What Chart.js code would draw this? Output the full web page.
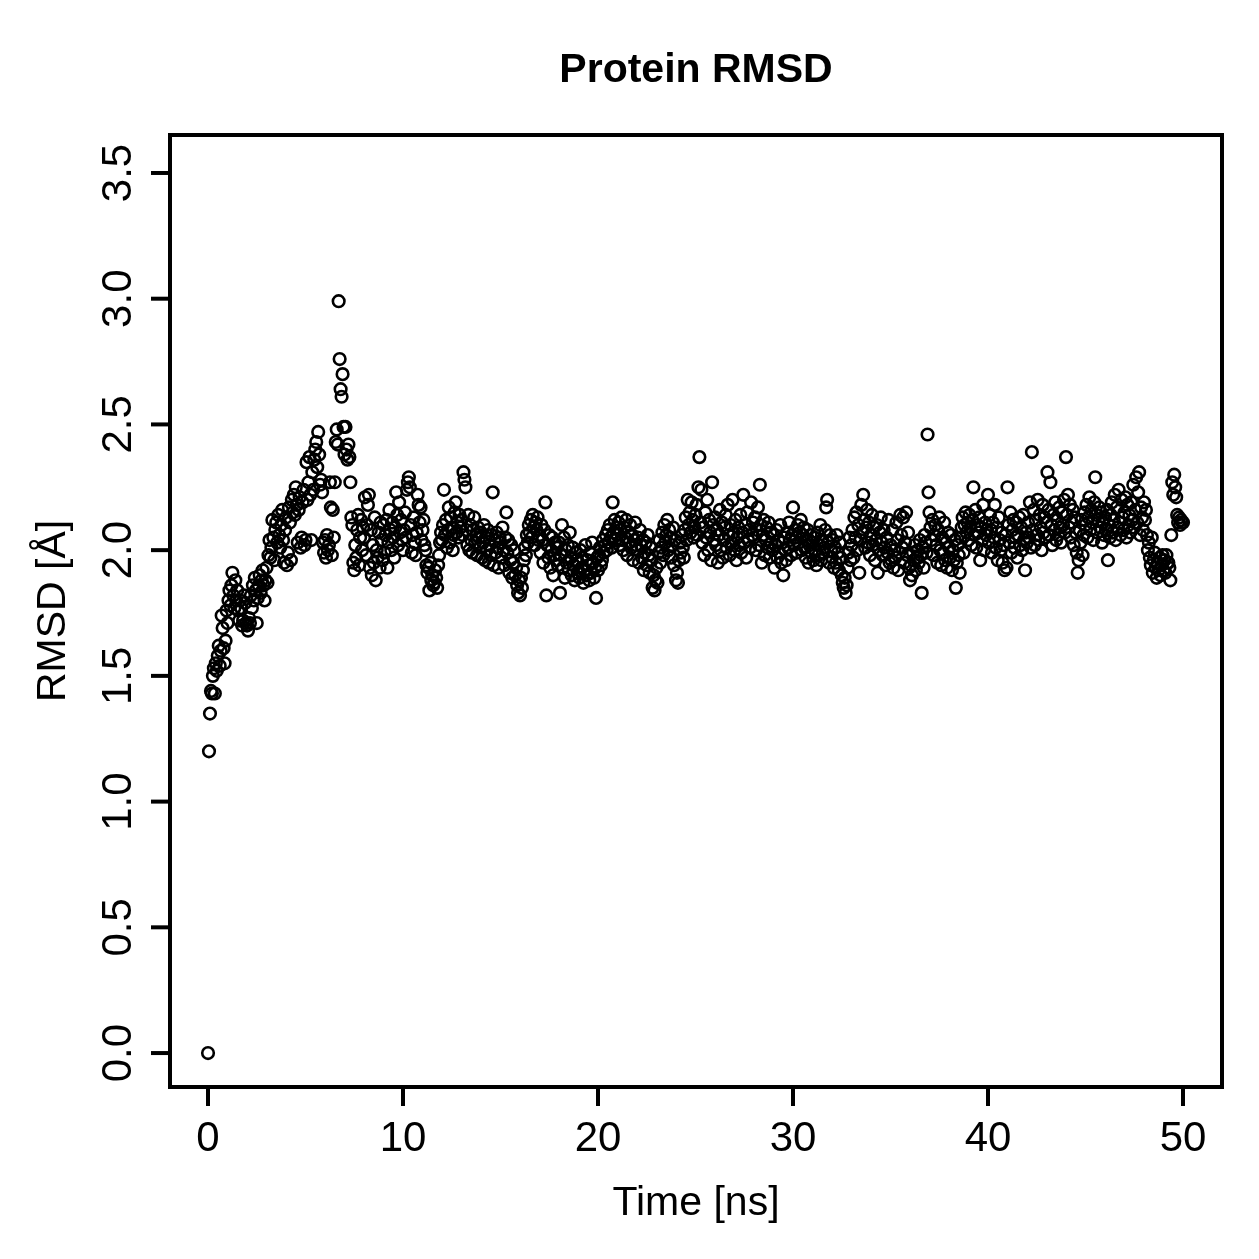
<!DOCTYPE html>
<html>
<head>
<meta charset="utf-8">
<title>Protein RMSD</title>
<script src="https://cdn.jsdelivr.net/npm/chart.js@4.4.1/dist/chart.umd.min.js"></script>
<style>
  html, body { margin: 0; padding: 0; background: #fff; }
  canvas { display: block; }
</style>
</head>
<body>
<canvas id="rmsd-chart" width="1259" height="1259" style="width:1259px;height:1259px"></canvas>
<script>
// frame spacing of the trajectory (ns)
const dtNs = 0.05;

// RMSD per frame (Angstrom), one line = 1 ns (20 frames)
const rmsd = [
  0.00, 1.20, 1.35, 1.44, 1.43, 1.50, 1.53, 1.43, 1.55, 1.52, 1.58, 1.62, 1.54, 1.60, 1.74, 1.69, 1.61, 1.55, 1.64, 1.76,
  1.71, 1.80, 1.84, 1.78, 1.86, 1.91, 1.82, 1.77, 1.88, 1.80, 1.84, 1.76, 1.72, 1.80, 1.77, 1.70, 1.72, 1.82, 1.79, 1.71,
  1.70, 1.68, 1.73, 1.71, 1.82, 1.77, 1.86, 1.80, 1.89, 1.84, 1.71, 1.81, 1.86, 1.90, 1.83, 1.88, 1.92, 1.86, 1.80, 1.88,
  1.93, 1.87, 1.98, 2.04, 1.97, 2.01, 2.12, 2.05, 1.96, 2.08, 2.11, 2.03, 2.14, 2.06, 2.01, 2.10, 2.16, 2.04, 1.95, 2.08,
  2.13, 1.94, 1.99, 2.17, 2.11, 1.96, 2.20, 2.15, 2.22, 2.14, 2.25, 2.18, 2.03, 2.16, 2.21, 2.01, 2.05, 2.19, 2.24, 2.02,
  2.04, 2.35, 2.20, 2.27, 2.37, 2.22, 2.04, 2.31, 2.24, 2.36, 2.40, 2.43, 2.33, 2.47, 2.38, 2.26, 2.28, 2.23, 2.03, 1.99,
  2.04, 1.97, 2.06, 2.00, 2.02, 2.27, 2.17, 1.98, 2.16, 2.05, 2.27, 2.43, 2.48, 2.42, 2.99, 2.76, 2.64, 2.61, 2.70, 2.49,
  2.38, 2.49, 2.40, 2.36, 2.42, 2.37, 2.27, 2.13, 2.10, 1.95, 1.92, 2.02, 1.97, 2.08, 2.14, 1.94, 2.05, 2.12, 2.00, 2.09,
  2.05, 2.21, 1.98, 2.10, 2.18, 2.22, 1.93, 2.08, 1.90, 2.02, 1.95, 2.13, 1.88, 2.00, 1.97, 2.07, 1.93, 2.11, 2.04, 1.96,
  2.10, 1.99, 2.06, 2.12, 1.93, 2.03, 2.16, 2.08, 2.00, 2.11, 2.05, 1.97, 2.09, 2.23, 2.14, 2.02, 2.19, 2.07, 2.12, 2.04,
  2.00, 2.08, 2.15, 2.05, 2.24, 2.27, 2.29, 2.25, 2.10, 1.99, 2.06, 2.13, 2.03, 1.98, 2.07, 2.22, 2.18, 2.11, 2.17, 2.04,
  2.08, 2.12, 2.02, 2.00, 1.94, 1.91, 1.93, 1.84, 1.95, 1.88, 1.90, 1.86, 1.87, 1.92, 1.89, 1.85, 1.94, 1.98, 2.03, 2.07,
  2.04, 2.10, 2.24, 2.06, 2.12, 2.01, 2.08, 2.17, 2.03, 2.13, 2.09, 2.00, 2.06, 2.15, 2.19, 2.07, 2.11, 2.05, 2.14, 2.09,
  2.12, 2.06, 2.31, 2.28, 2.25, 2.08, 2.02, 2.14, 2.00, 2.10, 2.04, 1.99, 2.08, 2.13, 2.03, 2.06, 1.98, 2.09, 2.05, 2.01,
  2.07, 1.97, 2.03, 2.10, 1.96, 2.05, 2.00, 2.08, 1.95, 2.02, 1.98, 2.06, 2.23, 1.94, 2.04, 1.99, 2.07, 2.01, 1.93, 2.05,
  2.03, 1.97, 2.09, 2.00, 1.94, 2.05, 2.15, 1.99, 2.04, 1.91, 1.96, 2.02, 1.89, 1.95, 2.00, 1.90, 1.93, 1.86, 1.83, 1.88,
  1.82, 1.89, 1.85, 1.92, 1.96, 2.01, 1.98, 2.06, 2.03, 2.10, 2.07, 2.12, 2.05, 2.14, 2.09, 2.02, 2.11, 2.08, 2.13, 2.04,
  2.06, 1.99, 2.10, 2.04, 1.95, 2.08, 2.19, 1.82, 2.02, 1.97, 2.06, 1.93, 2.00, 2.05, 1.90, 1.98, 2.03, 1.96, 2.01, 1.94,
  2.03, 1.83, 1.98, 2.10, 1.93, 2.05, 1.89, 2.00, 1.95, 2.02, 1.92, 2.07, 1.97, 1.90, 2.01, 1.94, 1.88, 1.99, 1.96, 1.91,
  1.95, 1.89, 2.00, 1.93, 1.97, 1.87, 1.92, 2.02, 1.90, 1.96, 1.94, 1.88, 1.99, 1.91, 2.03, 1.95, 1.89, 1.93, 1.81, 1.97,
  1.92, 1.98, 2.01, 1.94, 1.96, 2.04, 1.99, 2.02, 2.06, 2.00, 2.08, 2.03, 2.10, 2.05, 2.01, 2.19, 2.07, 2.12, 2.04, 2.09,
  2.06, 2.11, 2.02, 2.08, 2.13, 2.04, 2.00, 2.09, 2.05, 2.12, 1.98, 2.07, 2.03, 2.10, 2.01, 2.06, 1.96, 2.04, 2.11, 2.02,
  2.00, 2.05, 1.95, 2.08, 2.02, 1.97, 2.04, 1.92, 1.99, 2.03, 1.94, 2.06, 1.98, 1.91, 2.01, 1.96, 1.85, 1.90, 1.84, 1.88,
  1.93, 1.87, 1.99, 2.04, 1.95, 2.01, 2.07, 1.98, 2.10, 2.03, 2.06, 2.12, 2.00, 2.08, 2.05, 1.97, 2.02, 2.09, 1.94, 2.04,
  1.88, 1.91, 1.87, 1.96, 2.03, 1.99, 2.06, 2.01, 1.97, 2.08, 2.13, 2.04, 2.20, 2.10, 2.15, 2.07, 2.19, 2.12, 2.05, 2.09,
  2.14, 2.18, 2.06, 2.25, 2.37, 2.11, 2.24, 2.03, 2.09, 1.98, 2.15, 2.05, 2.20, 2.00, 2.12, 2.07, 1.96, 2.27, 2.10, 2.04,
  2.13, 2.02, 2.08, 1.95, 2.06, 2.16, 2.00, 2.11, 1.97, 2.04, 2.09, 2.14, 2.01, 2.18, 2.06, 1.98, 2.10, 2.03, 2.20, 2.07,
  2.00, 2.12, 1.96, 2.05, 2.09, 2.02, 2.14, 1.99, 2.07, 2.22, 2.03, 2.10, 1.97, 2.15, 2.04, 2.08, 2.01, 2.19, 2.06, 2.11,
  2.05, 2.13, 2.00, 2.08, 2.17, 2.02, 2.26, 2.10, 1.95, 2.06, 2.12, 1.98, 2.04, 2.09, 2.01, 2.11, 1.97, 2.07, 2.03, 2.00,
  2.06, 1.93, 2.02, 2.08, 1.97, 2.04, 1.99, 2.10, 1.95, 2.03, 1.90, 2.05, 2.00, 1.96, 2.07, 2.01, 2.11, 2.04, 1.98, 2.06,
  2.17, 2.02, 2.08, 2.05, 1.99, 2.10, 2.03, 2.07, 2.12, 2.00, 2.06, 2.09, 2.01, 1.97, 2.04, 2.08, 1.95, 2.02, 2.06, 1.99,
  2.03, 1.96, 2.05, 2.00, 1.94, 2.07, 1.98, 2.02, 2.10, 1.96, 2.04, 1.99, 2.01, 2.08, 2.17, 2.20, 2.03, 1.95, 2.06, 2.00,
  1.97, 2.04, 1.93, 2.01, 1.95, 2.06, 1.99, 1.92, 2.03, 1.97, 1.90, 1.87, 1.85, 1.89, 1.83, 1.86, 1.93, 1.99, 2.05, 1.96,
  2.02, 2.08, 1.97, 2.13, 2.05, 2.15, 2.00, 2.10, 1.91, 2.04, 2.18, 2.07, 2.22, 2.12, 2.01, 2.09, 2.16, 2.03, 2.11, 1.98,
  2.06, 2.14, 2.02, 2.09, 1.96, 2.04, 2.10, 1.91, 2.00, 2.07, 2.13, 2.03, 1.98, 2.08, 2.01, 1.94, 2.05, 1.99, 2.12, 1.95,
  2.02, 1.96, 2.08, 1.93, 2.00, 1.97, 2.11, 2.04, 1.92, 1.99, 2.14, 2.06, 2.01, 2.13, 1.95, 2.03, 2.15, 1.98, 2.07, 1.93,
  1.88, 1.94, 1.90, 1.99, 1.96, 2.02, 1.92, 1.97, 2.00, 1.95, 2.04, 1.98, 1.83, 2.01, 1.93, 2.06, 2.03, 1.99, 2.46, 2.23,
  2.15, 2.09, 2.04, 2.12, 1.98, 2.06, 2.10, 2.02, 1.95, 2.08, 2.13, 2.00, 1.94, 2.05, 1.99, 2.11, 1.96, 2.03, 1.93, 2.07,
  2.01, 1.97, 2.06, 1.92, 2.00, 1.96, 2.04, 1.85, 1.95, 2.02, 1.98, 1.91, 2.05, 2.09, 2.13, 1.99, 2.10, 2.15, 2.07, 2.11,
  2.04, 2.14, 2.09, 2.02, 2.12, 2.25, 2.06, 2.16, 2.01, 2.10, 2.07, 2.13, 1.96, 2.09, 2.04, 2.18, 2.00, 2.11, 2.06, 2.08,
  2.22, 2.03, 2.14, 2.08, 1.99, 2.11, 2.05, 2.18, 2.01, 2.09, 1.96, 2.13, 2.04, 2.00, 2.07, 1.95, 2.02, 1.92, 2.06, 1.93,
  2.25, 2.10, 2.03, 2.15, 1.99, 2.08, 2.12, 2.01, 2.05, 2.11, 1.97, 2.06, 2.13, 2.02, 2.09, 2.00, 2.14, 2.04, 1.92, 2.07,
  2.03, 2.11, 2.05, 2.19, 2.01, 2.39, 2.08, 2.16, 2.02, 2.12, 2.06, 2.20, 2.04, 2.14, 2.09, 2.00, 2.18, 2.07, 2.13, 2.05,
  2.11, 2.31, 2.16, 2.06, 2.27, 2.10, 2.02, 2.14, 2.08, 2.19, 2.04, 2.12, 2.06, 2.17, 2.09, 2.03, 2.15, 2.10, 2.20, 2.07,
  2.37, 2.14, 2.22, 2.09, 2.18, 2.05, 2.11, 2.16, 2.02, 2.13, 2.07, 1.99, 1.91, 1.96, 2.08, 2.03, 2.12, 1.98, 2.06, 2.15,
  2.10, 2.18, 2.05, 2.13, 2.21, 2.08, 2.16, 2.11, 2.04, 2.19, 2.29, 2.14, 2.07, 2.12, 2.17, 2.09, 2.15, 2.03, 2.11, 2.06,
  2.13, 2.08, 2.16, 1.96, 2.10, 2.05, 2.14, 2.19, 2.07, 2.12, 2.22, 2.04, 2.17, 2.09, 2.24, 2.11, 2.06, 2.20, 2.13, 2.08,
  2.15, 2.21, 2.05, 2.18, 2.10, 2.14, 2.07, 2.19, 2.12, 2.26, 2.09, 2.16, 2.29, 2.11, 2.23, 2.31, 2.06, 2.17, 2.13, 2.08,
  2.19, 2.12, 2.16, 2.06, 2.00, 2.03, 1.97, 1.94, 2.05, 1.91, 1.96, 1.99, 1.93, 1.89, 1.95, 1.92, 1.97, 1.90, 1.94, 1.98,
  1.92, 1.96, 1.91, 1.98, 1.95, 1.95, 1.93, 1.88, 2.06, 2.27, 2.22, 2.30, 2.25, 2.21, 2.14, 2.11, 2.13, 2.10, 2.12, 2.11,
  2.11
];

const xTicks = [0, 10, 20, 30, 40, 50];
const yTicks = [0.0, 0.5, 1.0, 1.5, 2.0, 2.5, 3.0, 3.5];

const chartTitle = 'Protein RMSD';
const xTitle = 'Time [ns]';
const yTitle = 'RMSD [Å]';

const fontFamily = '"Liberation Sans", Arial, Helvetica, sans-serif';

// ------------------------------------------------------
// base-graphics style frame, ticks and labels
// ------------------------------------------------------
const basePlotFrame = {
    id: 'basePlotFrame',
    afterDraw(chart) {
        const ctx = chart.ctx;
        const area = chart.chartArea;
        const xs = chart.scales.x;
        const ys = chart.scales.y;
        const tickLen = 19;

        ctx.save();
        ctx.strokeStyle = '#000';
        ctx.fillStyle = '#000';
        ctx.lineWidth = 4;
        ctx.lineCap = 'butt';
        ctx.lineJoin = 'miter';
        ctx.strokeRect(area.left, area.top, area.right - area.left, area.bottom - area.top);

        // x axis
        ctx.font = '42px ' + fontFamily;
        ctx.textAlign = 'center';
        ctx.textBaseline = 'alphabetic';
        xTicks.forEach(function (v) {
            let px = xs.getPixelForValue(v);
            ctx.beginPath();
            ctx.moveTo(px, area.bottom);
            ctx.lineTo(px, area.bottom + tickLen);
            ctx.stroke();
            ctx.fillText(String(v), px, 1151);
        });

        // y axis, labels parallel to the axis
        yTicks.forEach(function (v) {
            let py = ys.getPixelForValue(v);
            ctx.beginPath();
            ctx.moveTo(area.left, py);
            ctx.lineTo(area.left - tickLen, py);
            ctx.stroke();
            ctx.save();
            ctx.translate(131, py);
            ctx.rotate(-Math.PI / 2);
            ctx.fillText(v.toFixed(1), 0, 0);
            ctx.restore();
        });

        // axis titles
        let midX = (area.left + area.right) / 2;
        let midY = (area.top + area.bottom) / 2;
        ctx.font = '41px ' + fontFamily;
        ctx.fillText(xTitle, midX, 1215);
        ctx.save();
        ctx.translate(65, midY);
        ctx.rotate(-Math.PI / 2);
        ctx.fillText(yTitle, 0, 0);
        ctx.restore();

        // main title
        ctx.font = 'bold 41px ' + fontFamily;
        ctx.fillText(chartTitle, midX, 82);
        ctx.restore();
    }
};

let rmsdBox = document.getElementById('rmsd-chart');

if (rmsdBox) {
    let rmsdCtx = rmsdBox.getContext('2d');

    new Chart(rmsdCtx, {
        type: 'scatter',
        data: {
            datasets: [{
                label: 'RMSD',
                data: rmsd.map(function (v, i) { return { x: i * dtNs, y: v }; }),
                pointStyle: 'circle',
                pointRadius: 5.8,
                pointBorderWidth: 2.6,
                borderColor: '#000',
                pointBorderColor: '#000',
                backgroundColor: 'rgba(0,0,0,0)',
                pointBackgroundColor: 'rgba(0,0,0,0)',
                showLine: false
            }]
        },
        options: {
            responsive: false,
            devicePixelRatio: 1,
            animation: false,
            layout: {
                padding: { left: 170, right: 37, top: 135, bottom: 172 }
            },
            plugins: {
                legend: { display: false },
                tooltip: { enabled: false }
            },
            scales: {
                x: { type: 'linear', min: -1.95, max: 52, display: false },
                y: { type: 'linear', min: -0.135, max: 3.651, display: false }
            }
        },
        plugins: [basePlotFrame]
    });
}
</script>
</body>
</html>
